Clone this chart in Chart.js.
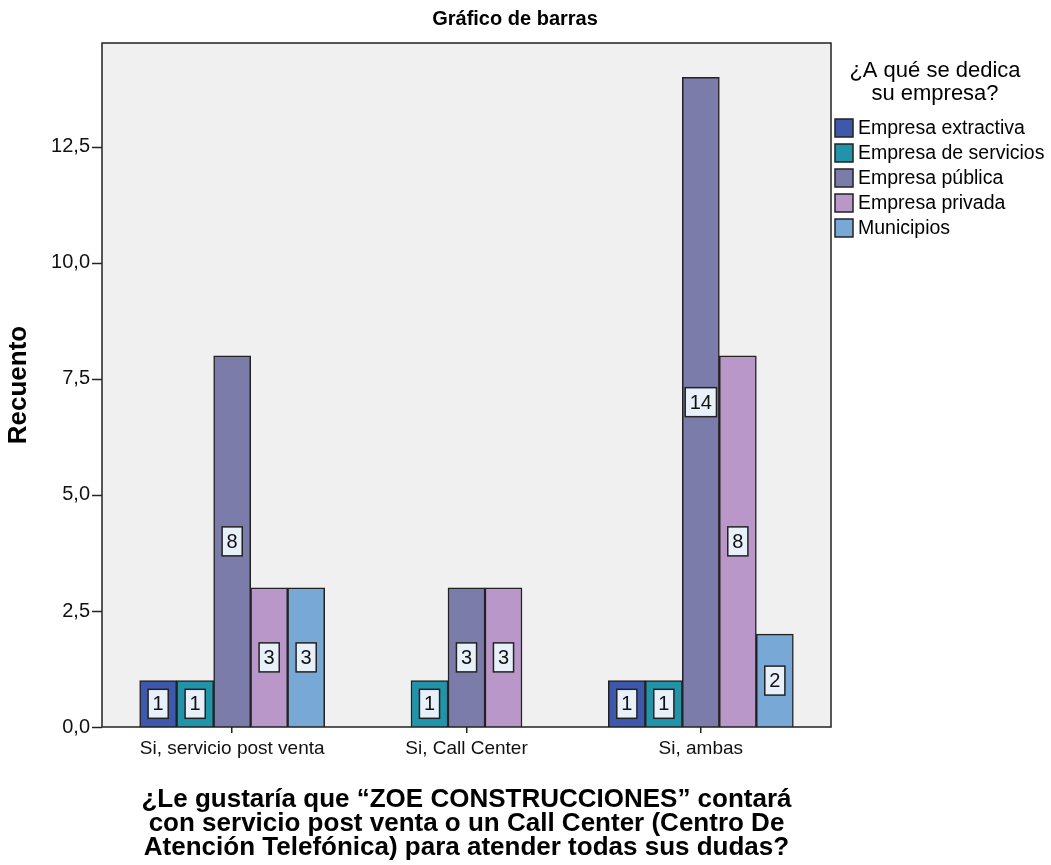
<!DOCTYPE html>
<html lang="es">
<head>
<meta charset="utf-8">
<title>Gráfico de barras</title>
<script src="https://cdn.jsdelivr.net/npm/chart.js@4.4.1/dist/chart.umd.min.js"></script>
<style>
    html, body { margin: 0; padding: 0; background: #ffffff; }
    #wrap { width: 1051px; height: 865px; position: relative; }
</style>
</head>
<body>
<div id="wrap"><canvas id="barrasChart"></canvas></div>
<script>
const categorias = ['Si, servicio post venta', 'Si, Call Center', 'Si, ambas'];
const tiposEmpresa = ['Empresa extractiva', 'Empresa de servicios', 'Empresa pública', 'Empresa privada', 'Municipios'];
const empresaExtractiva = [1, null, 1];
const empresaServicios = [1, 1, 1];
const empresaPublica = [8, 3, 14];
const empresaPrivada = [3, 3, 8];
const municipios = [3, null, 2];
const yTicks = [0, 2.5, 5, 7.5, 10, 12.5];
const yMax = 14.74;
const colores = ['#3e58ac', '#2194a9', '#7b7ca9', '#b997c8', '#78a8d6'];

const tituloGrafico = 'Gráfico de barras';
const tituloLeyenda = ['¿A qué se dedica', 'su empresa?'];
const tituloEjeX = [
    '¿Le gustaría que “ZOE CONSTRUCCIONES” contará',
    'con servicio post venta o un Call Center (Centro De',
    'Atención Telefónica) para atender todas sus dudas?'
];

const FONT = '"Liberation Sans", Arial, sans-serif';
const FRAME_PAD = 13;
const INK = '#222222';

const formatoComa = (v) => Number(v).toFixed(1).replace('.', ',');

const marcoPlugin = {
    id: 'marco',
    beforeDraw(chart) {
        const { ctx, chartArea: a } = chart;
        ctx.save();
        ctx.fillStyle = '#f0f0f0';
        ctx.fillRect(a.left - FRAME_PAD, a.top, a.width + FRAME_PAD * 2, a.height);
        ctx.restore();
    },
    afterDatasetsDraw(chart) {
        const { ctx } = chart;
        ctx.save();
        ctx.font = `20px ${FONT}`;
        ctx.textAlign = 'center';
        ctx.textBaseline = 'middle';
        chart.data.datasets.forEach((ds, i) => {
            const meta = chart.getDatasetMeta(i);
            meta.data.forEach((bar, j) => {
                const v = ds.data[j];
                if (v === null || v === undefined) return;
                const { x, y, base } = bar.getProps(['x', 'y', 'base'], true);
                const cy = (y + base) / 2;
                const text = String(v);
                const w = ctx.measureText(text).width + 9;
                const h = 29;
                ctx.fillStyle = '#e8f0fa';
                ctx.fillRect(x - w / 2, cy - h / 2, w, h);
                ctx.strokeStyle = INK;
                ctx.lineWidth = 1.5;
                ctx.strokeRect(x - w / 2, cy - h / 2, w, h);
                ctx.fillStyle = '#111';
                ctx.fillText(text, x, cy + 1);
            });
        });
        ctx.restore();
    },
    afterDraw(chart) {
        const { ctx, chartArea: a, scales } = chart;
        const left = a.left - FRAME_PAD;
        const right = a.right + FRAME_PAD;
        ctx.save();
        // marco del área de trazado
        ctx.strokeStyle = INK;
        ctx.lineWidth = 1.5;
        ctx.strokeRect(left, a.top, right - left, a.height);
        // marcas del eje y
        yTicks.forEach((v) => {
            const py = Math.round(scales.y.getPixelForValue(v)) + 0.5;
            ctx.beginPath();
            ctx.moveTo(left - 10, py);
            ctx.lineTo(left, py);
            ctx.stroke();
        });
        // título
        ctx.fillStyle = '#000';
        ctx.font = `bold 20px ${FONT}`;
        ctx.textAlign = 'center';
        ctx.textBaseline = 'middle';
        ctx.fillText(tituloGrafico, 515, 19);
        // leyenda
        ctx.font = `22px ${FONT}`;
        tituloLeyenda.forEach((line, k) => ctx.fillText(line, 935, 71 + k * 23));
        ctx.font = `19.5px ${FONT}`;
        ctx.textAlign = 'left';
        chart.data.datasets.forEach((ds, i) => {
            const cy = 128 + i * 25;
            ctx.fillStyle = ds.backgroundColor;
            ctx.fillRect(835, cy - 9, 18, 18);
            ctx.strokeStyle = INK;
            ctx.lineWidth = 1.5;
            ctx.strokeRect(835, cy - 9, 18, 18);
            ctx.fillStyle = '#000';
            ctx.fillText(ds.label, 858, cy + 1);
        });
        ctx.restore();
    }
};

const series = [empresaExtractiva, empresaServicios, empresaPublica, empresaPrivada, municipios];

new Chart(document.getElementById('barrasChart'), {
    type: 'bar',
    data: {
        labels: categorias,
        datasets: series.map((data, i) => ({
            label: tiposEmpresa[i],
            data,
            backgroundColor: colores[i],
            borderColor: INK,
            borderWidth: 1.5,
            barThickness: 37,
            skipNull: true
        }))
    },
    options: {
        responsive: true,
        maintainAspectRatio: false,
        animation: false,
        layout: { padding: { top: 43, right: 233, bottom: 0, left: 0 } },
        plugins: {
            legend: { display: false },
            title: { display: false },
            tooltip: { enabled: false }
        },
        scales: {
            x: {
                offset: true,
                grid: { display: true, drawOnChartArea: false, drawTicks: true, tickLength: 6, color: INK, lineWidth: 1.5, offset: false },
                border: { display: false },
                ticks: { color: '#111', font: { family: FONT, size: 19 }, padding: 4, maxRotation: 0, autoSkip: false },
                title: {
                    display: true,
                    text: tituloEjeX,
                    color: '#000',
                    font: { family: FONT, size: 26, weight: 'bold', lineHeight: '24px' },
                    padding: { top: 0, bottom: 5 }
                },
                afterFit(scale) { scale.height = 138; }
            },
            y: {
                min: 0,
                max: yMax,
                grid: { display: false, drawTicks: false },
                border: { display: false },
                afterBuildTicks(scale) { scale.ticks = yTicks.map((value) => ({ value })); },
                ticks: { color: '#111', font: { family: FONT, size: 20 }, padding: 25, callback: (v) => formatoComa(v) },
                title: {
                    display: true,
                    text: 'Recuento',
                    color: '#000',
                    font: { family: FONT, size: 26, weight: 'bold' },
                    padding: { top: 3, bottom: 0 }
                },
                afterFit(scale) { scale.width = 115; }
            }
        }
    },
    plugins: [marcoPlugin]
});
</script>
</body>
</html>
